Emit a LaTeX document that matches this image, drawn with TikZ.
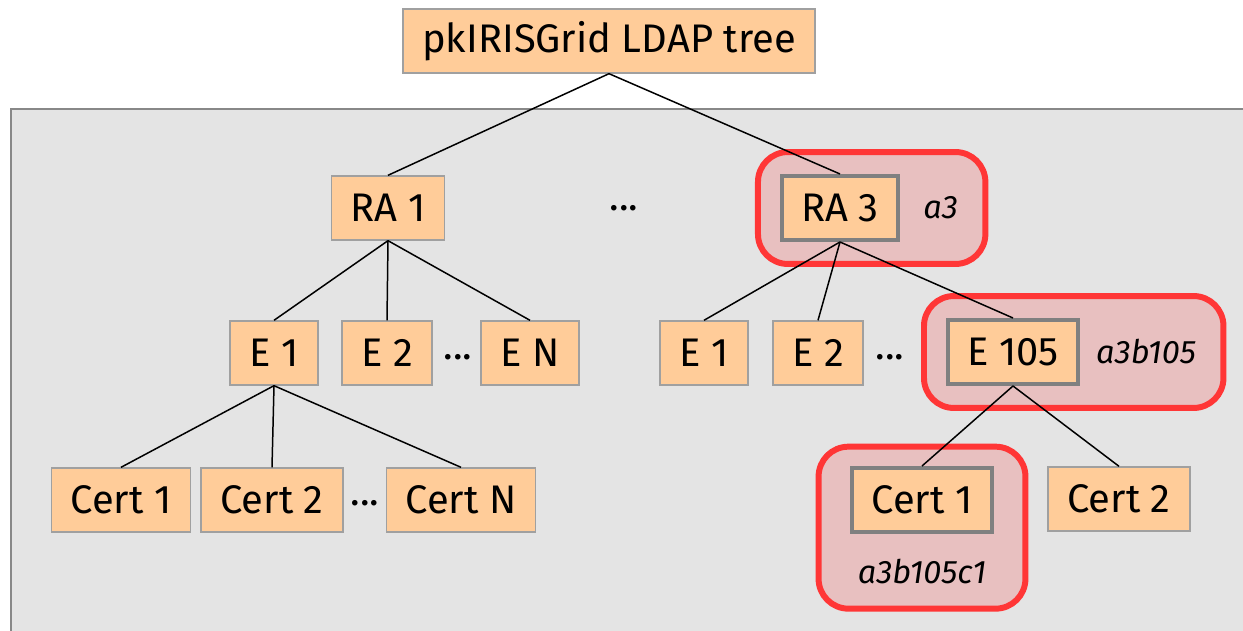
\documentclass[tikz,border=0pt]{standalone}
\usepackage{fontspec}
\setmainfont{Fira Sans}
\usetikzlibrary{positioning, fit, backgrounds}

\definecolor{boxfill}{HTML}{FFCC99}
\definecolor{boxline}{HTML}{A0A0A0}
\definecolor{markline}{HTML}{808080}
\definecolor{halored}{HTML}{FF3636}
\definecolor{halofill}{HTML}{E8C0C0}
\definecolor{panelfill}{HTML}{E4E4E4}
\definecolor{panelline}{HTML}{888888}

\begin{document}
\begin{tikzpicture}[
  x=0.02cm, y=-0.02cm,
  every node/.style = {font=\fontsize{22.7}{26}\selectfont},
  entry/.style = {
    draw=boxline, fill=boxfill, line width=0.8pt,
    inner xsep=11pt, minimum height=36.4pt
  },
  marked/.style = {entry, draw=markline, line width=2.3pt},
  tag/.style = {font=\fontsize{18.5}{22}\selectfont\itshape, inner sep=3pt},
  halo/.style = {
    draw=halored, fill=halofill, line width=3.4pt,
    rounded corners=17pt, inner sep=12.5pt
  },
  dots/.style = {inner sep=0pt},
  link/.style = {line width=0.85pt}
]
\useasboundingbox (0,0) rectangle (1243,631);
\clip (0,0) rectangle (1243,631);

% grey panel holding the subtree
\begin{scope}[on background layer]
  \draw[panelline, fill=panelfill, line width=1.6pt] (11,109) rectangle (1260,650);
\end{scope}

\node[entry] (root) at (609,41) {pkIRISGrid LDAP tree};

% left branch
\node[entry] (ra1) at (388,208) {RA 1};
\node[entry] (le1) at (274,353) {E 1};
\node[entry] (le2) at (387,353) {E 2};
\node[dots] (ldotsE) at (458,357) {...};
\node[entry] (len) at (530,353) {E N};
\node[entry] (lc1) at (121,500) {Cert 1};
\node[entry] (lc2) at (272,500) {Cert 2};
\node[dots] (ldotsC) at (365,503) {...};
\node[entry] (lcn) at (461,500) {Cert N};

\node[dots] (midots) at (624,208) {...};

% right branch
\node[marked] (ra3) at (840,208) {RA 3};
\node[tag, right=10pt of ra3] (ra3tag) {a3};
\node[entry] (re1) at (704,353) {E 1};
\node[entry] (re2) at (818,353) {E 2};
\node[dots] (rdotsE) at (890,357) {...};
\node[marked] (e105) at (1013,352) {E 105};
\node[tag, right=6pt of e105] (e105tag) {a3b105};
\node[marked] (rc1) at (922,500) {Cert 1};
\node[tag, below=11pt of rc1] (rc1tag) {a3b105c1};
\node[entry] (rc2) at (1119,499) {Cert 2};

\begin{scope}[on background layer]
  \node[halo, fit=(ra3)(ra3tag)] (ra3halo) {};
  \node[halo, fit=(e105)(e105tag)] (e105halo) {};
  \node[halo, inner xsep=18pt, inner ysep=11pt, fit=(rc1)(rc1tag)] (rc1halo) {};
\end{scope}

\draw[link] (root.south) -- (ra1.north);
\draw[link] (root.south) -- (ra3.north);

\foreach \kid in {le1, le2, len}
  \draw[link] (ra1.south) -- (\kid.north);
\foreach \kid in {lc1, lc2, lcn}
  \draw[link] (le1.south) -- (\kid.north);
\foreach \kid in {re1, re2, e105}
  \draw[link] (ra3.south) -- (\kid.north);
\foreach \kid in {rc1, rc2}
  \draw[link] (e105.south) -- (\kid.north);

\end{tikzpicture}
\end{document}
